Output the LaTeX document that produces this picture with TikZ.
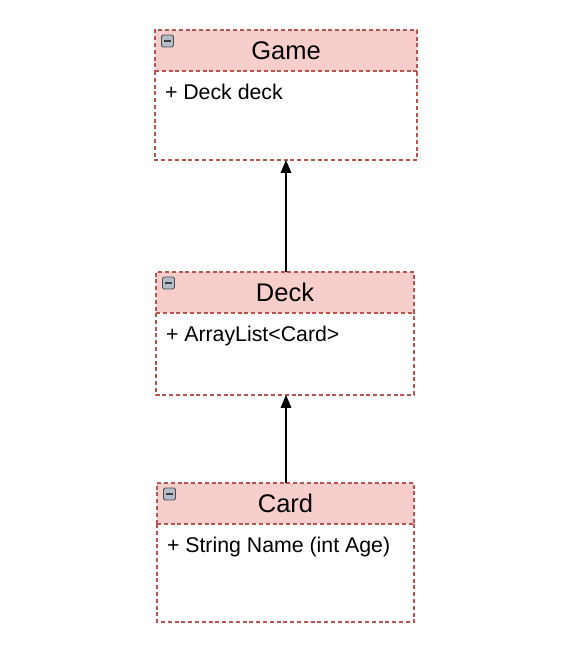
\documentclass[tikz,border=0pt]{standalone}
\usepackage{fontspec}
\setmainfont{Liberation Sans}
\usetikzlibrary{arrows, positioning}
\definecolor{hdrfill}{HTML}{F8CECC}
\definecolor{hdrline}{HTML}{B85450}
\definecolor{iconfill}{HTML}{B4BCC8}

\begin{document}
\begin{tikzpicture}[x=1pt, y=-1pt, >=triangle 45]
\tikzstyle{every node}=[inner sep=0pt, outer sep=0pt];
\tikzstyle{classline}=[draw=hdrline, line width=1.4pt, dash pattern=on 4pt off 2.8pt];
\tikzstyle{header}=[classline, fill=hdrfill, anchor=north west, minimum height=41pt, font=\fontsize{25.5}{30}\selectfont];
\tikzstyle{classbody}=[anchor=north west];
\tikzstyle{attr}=[anchor=base west, font=\fontsize{21.3}{25}\selectfont];
\tikzstyle{minusicon}=[draw=gray!60!black, fill=iconfill, line width=0.8pt, rounded corners=1.5pt, minimum width=12pt, minimum height=12pt, anchor=north west];
\useasboundingbox (0,0) rectangle (570,666);
% Game
\node[header, minimum width=262pt] (gamehead) at (155,30) {Game};
\node[classbody, minimum width=262pt, minimum height=89pt] (gamebody) at (155,71) {};
\node[attr] (gameattr) at ([xshift=10pt, yshift=-28.5pt]gamebody.north west) {+ Deck deck};
\node[minusicon] (gameicon) at ([xshift=6.5pt, yshift=-5pt]gamehead.north west) {\color{black!75}\rule{7pt}{2pt}};
% Deck
\node[header, minimum width=258pt] (deckhead) at (156,272) {Deck};
\node[classbody, minimum width=258pt, minimum height=82pt] (deckbody) at (156,313) {};
\node[attr] (deckattr) at ([xshift=10pt, yshift=-28.5pt]deckbody.north west) {+ ArrayList<Card>};
\node[minusicon] (deckicon) at ([xshift=6.5pt, yshift=-5pt]deckhead.north west) {\color{black!75}\rule{7pt}{2pt}};
% Card
\node[header, minimum width=257pt] (cardhead) at (157,483) {Card};
\node[classbody, minimum width=257pt, minimum height=98pt] (cardbody) at (157,524) {};
\node[attr] (cardattr) at ([xshift=10pt, yshift=-28.5pt]cardbody.north west) {+ String Name (int Age)};
\node[minusicon] (cardicon) at ([xshift=6.5pt, yshift=-5pt]cardhead.north west) {\color{black!75}\rule{7pt}{2pt}};
% body outlines, top edge is the header's
\foreach \c in {game,deck,card}
  \draw[classline] (\c body.north west) -- (\c body.south west) -- (\c body.south east) -- (\c body.north east);
\draw [->, line width=2pt] ([xshift=1pt]deckhead.north) -- ([xshift=1pt]deckhead.north |- gamebody.south);
\draw [->, line width=2pt] ([xshift=0.5pt]cardhead.north) -- ([xshift=0.5pt]cardhead.north |- deckbody.south);
\end{tikzpicture}
\end{document}
